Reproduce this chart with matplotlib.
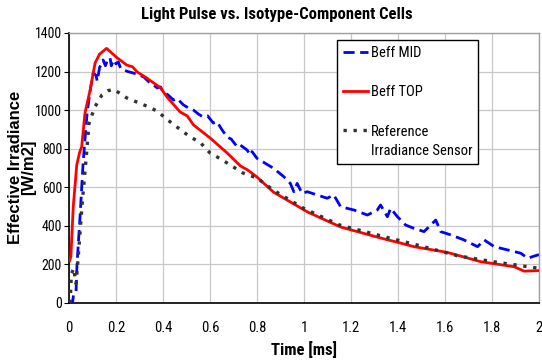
import matplotlib
matplotlib.use("Agg")
import matplotlib.pyplot as plt
from matplotlib import font_manager
from matplotlib.font_manager import FontProperties
from matplotlib.legend_handler import HandlerLine2D

# ---------------- data ----------------
t_mid = [0, 0.015, 0.02, 0.03, 0.034, 0.047, 0.06, 0.077, 0.09, 0.103, 0.115, 0.12, 0.13,
         0.145, 0.155, 0.165, 0.175, 0.18, 0.19, 0.2, 0.21, 0.22, 0.25, 0.28, 0.3, 0.32,
         0.345, 0.36, 0.375, 0.39, 0.4, 0.42, 0.445, 0.46, 0.487, 0.51, 0.53, 0.55, 0.57,
         0.59, 0.614, 0.63, 0.65, 0.673, 0.69, 0.716, 0.729, 0.758, 0.772, 0.779, 0.8,
         0.871, 0.914, 0.942, 0.957, 0.971, 0.992, 1.014, 1.056, 1.099, 1.127, 1.156,
         1.213, 1.27, 1.312, 1.326, 1.355, 1.369, 1.398, 1.433, 1.468, 1.511, 1.561,
         1.582, 1.625, 1.681, 1.739, 1.767, 1.81, 1.867, 1.923, 1.952, 1.995, 2.0]
v_mid = [0, 0, 50, 60, 200, 446, 726, 985, 1100, 1192, 1180, 1150, 1220,
         1260, 1230, 1265, 1270, 1230, 1260, 1240, 1250, 1215, 1200, 1190, 1182, 1170,
         1140, 1130, 1115, 1120, 1094, 1080, 1052, 1060, 1027, 1010, 1000, 980, 965,
         970, 933, 940, 900, 860, 850, 810, 819, 793, 767, 785, 750,
         698, 655, 620, 577, 620, 568, 577, 560, 543, 560, 499,
         482, 456, 482, 508, 447, 491, 447, 404, 387, 370, 430,
         370, 353, 327, 292, 327, 292, 275, 258, 232, 249, 250]

t_top = [0.003, 0.008, 0.018, 0.033, 0.045, 0.054, 0.068, 0.09, 0.111, 0.13, 0.16, 0.2,
         0.245, 0.26, 0.27, 0.29, 0.33, 0.39, 0.417, 0.473, 0.503, 0.53, 0.6, 0.673,
         0.73, 0.76, 0.8, 0.87, 1.015, 1.156, 1.326, 1.41, 1.468, 1.611, 1.753, 1.895,
         1.937, 2.0]
v_top = [220, 240, 498, 715, 780, 810, 985, 1104, 1244, 1290, 1320, 1276,
         1234, 1228, 1225, 1198, 1167, 1115, 1068, 990, 970, 923, 856, 778,
         710, 690, 653, 575, 472, 394, 337, 311, 292, 262, 214, 188,
         165, 168]

t_ref = [0.005, 0.01, 0.02, 0.03, 0.04, 0.055, 0.075, 0.085, 0.11, 0.14, 0.165, 0.19,
         0.246, 0.33, 0.375, 0.42, 0.465, 0.51, 0.56, 0.60, 0.645, 0.687, 0.74, 0.8,
         0.87, 1.0, 1.15, 1.369, 1.5, 1.653, 1.8, 2.0]
v_ref = [0, 150, 180, 100, 250, 500, 780, 930, 1016, 1078, 1100, 1108,
         1063, 1021, 995, 949, 907, 866, 830, 778, 747, 715, 674, 648,
         585, 490, 405, 335, 295, 245, 215, 180]

x_ticks = [0, 0.2, 0.4, 0.6, 0.8, 1, 1.2, 1.4, 1.6, 1.8, 2]
x_tick_labels = ["0", "0.2", "0.4", "0.6", "0.8", "1", "1.2", "1.4", "1.6", "1.8", "2"]
y_ticks = [0, 200, 400, 600, 800, 1000, 1200, 1400]

# ---------------- fonts ----------------
def wnum(w):
    if isinstance(w, (int, float)):
        return w
    return font_manager.weight_dict.get(str(w), 400)

def pick_narrow():
    fl = font_manager.fontManager.ttflist
    prio = ["Liberation Sans Narrow", "Arial Narrow", "Roboto Condensed", "PT Sans Narrow",
            "Open Sans Condensed", "Archivo Narrow", "Asap Condensed", "Encode Sans Condensed"]
    for fam in prio:
        reg = [f for f in fl if f.name == fam and f.style == "normal" and wnum(f.weight) == 400]
        bold = [f for f in fl if f.name == fam and f.style == "normal" and wnum(f.weight) == 700]
        if reg and bold:
            return fam, reg[0].fname, bold[0].fname
    return None

sel = pick_narrow()
if sel:
    nname, nreg, nbold = sel
    fp_reg = lambda size: FontProperties(fname=nreg, size=size)
    fp_bold = lambda size: FontProperties(fname=nbold, size=size)
else:
    fp_reg = lambda size: FontProperties(family="Liberation Sans", size=size)
    fp_bold = lambda size: FontProperties(family="Liberation Sans", weight="bold", size=size)


class TopAlignedHandler(HandlerLine2D):
    """Draw the legend handle aligned with the first line of a two-line label."""
    def __init__(self, shift, **kw):
        super().__init__(**kw)
        self.shift = shift

    def create_artists(self, legend, orig_handle, xdescent, ydescent, width, height,
                       fontsize, trans):
        arts = super().create_artists(legend, orig_handle, xdescent, ydescent, width,
                                      height, fontsize, trans)
        for a in arts:
            a.set_ydata([y + self.shift for y in a.get_ydata()])
        return arts


fig = plt.figure(figsize=(5.42, 3.62), dpi=100)
ax = fig.add_axes([0.1273, 0.163, 0.867, 0.746])

l_mid, = ax.plot(t_mid, v_mid, color="#0000ff", lw=2.0, dashes=(4, 2), label="Beff MID", zorder=3)
l_top, = ax.plot(t_top, v_top, color="#ff0000", lw=2.0, label="Beff TOP", zorder=4)
l_ref, = ax.plot(t_ref, v_ref, color="#333333", lw=2.4, dashes=(1, 2), dash_capstyle="butt",
                 label="Reference\nIrradiance Sensor", zorder=5)

ax.set_xlim(0, 2)
ax.set_ylim(0, 1400)
ax.set_xticks(x_ticks)
ax.set_xticklabels(x_tick_labels, fontproperties=fp_reg(10.5))
ax.set_yticks(y_ticks)
ax.set_yticklabels([str(v) for v in y_ticks], fontproperties=fp_reg(10))
ax.tick_params(axis="x", length=0, pad=13)
ax.tick_params(axis="y", length=3.5, direction="out", pad=1.5)

ax.grid(True, color="#c8c8c8", lw=0.9)
ax.set_axisbelow(True)
for s in ["top", "right"]:
    ax.spines[s].set_color("#a0a0a0")
    ax.spines[s].set_linewidth(1.0)
for s in ["left", "bottom"]:
    ax.spines[s].set_color("black")
    ax.spines[s].set_linewidth(1.2)

ax.set_xlabel("Time [ms]", fontproperties=fp_bold(12), labelpad=4)
fig.text(0.041, 0.538, "Effective Irradiance\n[W/m2]", rotation=90, ha="center", va="center",
         multialignment="center", family="Liberation Sans", weight="bold", fontsize=12,
         linespacing=0.8)
fig.text(0.511, 0.961, "Light Pulse vs. Isotype-Component Cells", fontproperties=fp_bold(12),
         ha="center", va="center")

leg = ax.legend(loc="upper left", bbox_to_anchor=(0.570, 0.974), prop=fp_reg(10.5),
                frameon=True, fancybox=False, edgecolor="black", framealpha=1,
                handlelength=1.75, handletextpad=0.2, labelspacing=1.75, borderpad=0.4,
                borderaxespad=0,
                handler_map={l_ref: TopAlignedHandler(shift=8.5)})
leg.get_frame().set_linewidth(1.0)
for txt in leg.get_texts():
    txt.set_linespacing(1.45)

fig.savefig("out.png", dpi=100)
